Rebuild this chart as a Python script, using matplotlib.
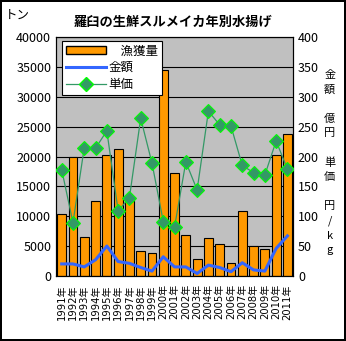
import matplotlib
matplotlib.use("Agg")
import matplotlib.pyplot as plt
from matplotlib.patches import Patch
from matplotlib.lines import Line2D

plt.rcParams['font.family'] = ['Noto Sans CJK JP', 'DejaVu Sans']

years = [f"{y}年" for y in range(1991, 2012)]
catch_t = [10300, 19900, 6500, 12500, 20200, 21200, 12500, 4100, 3900, 34500,
           17200, 6800, 2800, 6300, 5300, 2100, 10800, 5000, 4450, 20200, 23800]
amount = [20, 20, 15, 27, 50, 24, 21, 14, 8, 32,
          15, 15, 4, 18, 14, 7, 22, 10, 8, 46, 67]
price = [178, 89, 215, 214, 243, 109, 131, 264, 189, 91,
         82, 191, 144, 276, 253, 251, 185, 173, 169, 226, 179]

x = list(range(len(years)))

fig = plt.figure(figsize=(3.46, 3.41), dpi=100)
fig.patch.set_edgecolor('black')
fig.patch.set_linewidth(1.5)
ax = fig.add_axes([0.162, 0.191, 0.685, 0.700])
ax.set_facecolor('#C0C0C0')
ax.bar(x, catch_t, width=0.78, color='#FF9900', edgecolor='black', linewidth=0.8, zorder=2)
ax.set_xlim(-0.5, len(years) - 0.5)
ax.set_ylim(0, 40000)
ax.set_yticks(range(0, 40001, 5000))
ax.yaxis.grid(True, color='black', linewidth=0.8)
ax.set_axisbelow(True)
ax.set_xticks(x)
ax.set_xticklabels(years, rotation=90, fontsize=7.2, family=['DejaVu Sans', 'Noto Sans CJK JP'])
ax.tick_params(axis='both', length=0, labelsize=9)
ax.tick_params(axis='x', pad=6, labelsize=7.2)

ax2 = ax.twinx()
ax2.set_ylim(0, 400)
ax2.set_yticks(range(0, 401, 50))
ax2.tick_params(axis='y', length=0, labelsize=9)
ax2.plot(x, amount, color='#3366FF', linewidth=2.2, zorder=3)
ax2.plot(x, price, color='#339966', linewidth=0.9, marker='D', markersize=7.5,
         markerfacecolor='#339966', markeredgecolor='#00FF00', markeredgewidth=0.8, zorder=4)

for a in (ax, ax2):
    for s in a.spines.values():
        s.set_color('black')
        s.set_linewidth(0.8)

handles = [Patch(facecolor='#FF9900', edgecolor='black', label='\u3000漁獲量'),
           Line2D([], [], color='#3366FF', linewidth=2.2, label='金額'),
           Line2D([], [], color='#339966', linewidth=0.9, marker='D', markersize=7,
                  markerfacecolor='#339966', markeredgecolor='#00FF00', label='単価')]
leg = ax2.legend(handles=handles, loc='upper left', bbox_to_anchor=(0.025, 0.985),
                 fontsize=9, frameon=True, fancybox=False, framealpha=1,
                 edgecolor='black', borderpad=0.3, labelspacing=0.3,
                 handlelength=3.2, handletextpad=0.2, borderaxespad=0)
leg.get_frame().set_linewidth(0.8)
leg.set_zorder(10)

fig.text(0.5, 0.935, '羅臼の生鮮スルメイカ年別水揚げ', ha='center', va='center',
         fontsize=9.5, fontweight='bold')
fig.text(0.015, 0.955, 'トン', ha='left', va='center', fontsize=9)
fig.text(0.953, 0.795, '金\n額\n\n億\n円\n\n単\n価\n\n円\n/\nk\ng', ha='center', va='top',
         fontsize=8, linespacing=1.55)

fig.savefig('out.png', dpi=100, edgecolor=fig.get_edgecolor())
